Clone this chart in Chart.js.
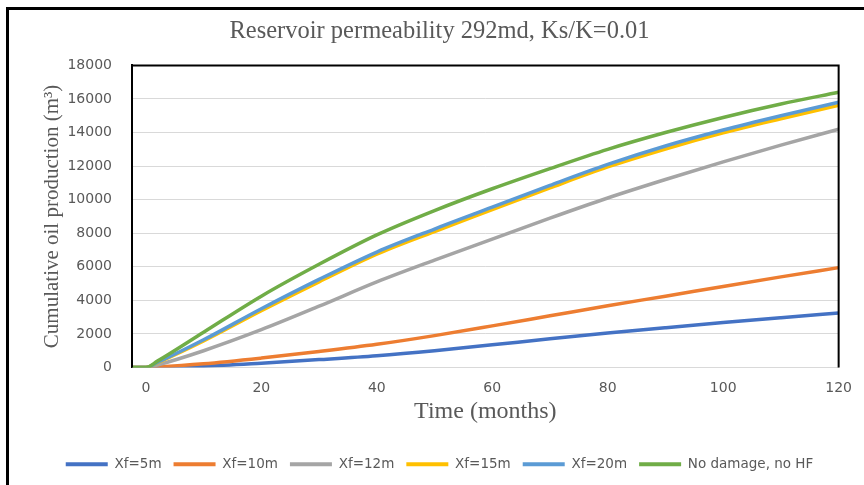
<!DOCTYPE html>
<html>
<head>
<meta charset="utf-8">
<script src="https://cdn.jsdelivr.net/npm/chart.js@4.4.1/dist/chart.umd.min.js"></script>
<style>
  body { margin: 0; background: #fff; }
  #wrap { position: relative; width: 864px; height: 485px; }
  #frame { position: absolute; left: 6px; top: 7px; right: 0; bottom: 0; border-left: 3px solid #000; border-top: 3px solid #000; pointer-events: none; }
  canvas { position: absolute; left: 0; top: 0; }
</style>
</head>
<body>
<div id="wrap">
  <canvas id="chart" width="864" height="485"></canvas>
  <div id="frame"></div>
</div>
<script>
// time in months, cumulative oil production in m3
const months = [-2.4, 0, 2, 10, 20, 30, 40, 50, 60, 70, 80, 90, 100, 110, 120];
const xf5 = [0, 0, 10, 80, 260, 470, 700, 1000, 1350, 1710, 2050, 2370, 2680, 2970, 3250];
const xf10 = [0, 0, 30, 220, 560, 950, 1380, 1900, 2480, 3080, 3680, 4250, 4830, 5400, 5950];
const xf12 = [0, 0, 150, 1000, 2250, 3650, 5100, 6400, 7650, 8900, 10100, 11200, 12250, 13250, 14200];
const xf15 = [0, 0, 280, 1580, 3380, 5100, 6750, 8100, 9400, 10700, 11950, 13020, 13980, 14820, 15620];
const xf20 = [0, 0, 300, 1650, 3500, 5250, 6880, 8250, 9550, 10850, 12100, 13200, 14150, 15000, 15800];
const noDamage = [0, 0, 380, 2100, 4250, 6150, 7900, 9350, 10650, 11850, 13000, 14000, 14900, 15700, 16400];

const seriesNames = ["Xf=5m", "Xf=10m", "Xf=12m", "Xf=15m", "Xf=20m", "No damage, no HF"];
const seriesColors = ["#4472C4", "#ED7D31", "#A5A5A5", "#FFC000", "#5B9BD5", "#70AD47"];
const xTicks = [0, 20, 40, 60, 80, 100, 120];

const seriesValues = [xf5, xf10, xf12, xf15, xf20, noDamage];
const datasets = seriesValues.map((vals, i) => ({
  label: seriesNames[i],
  data: vals.map((v, k) => ({ x: months[k], y: v })),
  borderColor: seriesColors[i],
  backgroundColor: seriesColors[i],
  borderWidth: 3.5,
  pointRadius: 0,
  cubicInterpolationMode: "monotone",
  order: seriesValues.length - 1 - i   // later series drawn on top
}));

const textGrey = "#595959";
const sans = "'DejaVu Sans', sans-serif";
const serif = "'Liberation Serif', 'Times New Roman', serif";

// black outline on the top, left and right of the plot area
const plotFrame = {
  id: "plotFrame",
  afterDatasetsDraw(chart) {
    const { ctx, chartArea: a } = chart;
    ctx.save();
    ctx.strokeStyle = "#000";
    ctx.lineWidth = 2;
    ctx.beginPath();
    ctx.moveTo(a.left, a.bottom);
    ctx.lineTo(a.left, a.top);
    ctx.lineTo(a.right, a.top);
    ctx.lineTo(a.right, a.bottom);
    ctx.stroke();
    ctx.restore();
  }
};

new Chart(document.getElementById("chart"), {
  type: "line",
  data: { datasets },
  plugins: [plotFrame],
  options: {
    responsive: false,
    animation: false,
    devicePixelRatio: 1,
    layout: { padding: { left: 40, right: 25, top: 0, bottom: 4 } },
    plugins: {
      title: {
        display: true,
        text: "Reservoir permeability 292md, Ks/K=0.01",
        color: textGrey,
        font: { family: serif, size: 24.5, weight: "normal" },
        padding: { top: 17, bottom: 19 }
      },
      legend: {
        position: "bottom",
        labels: {
          color: textGrey,
          font: { family: sans, size: 13.5 },
          boxWidth: 42,
          boxHeight: 4,
          padding: 12,
          sort: (a, b) => a.datasetIndex - b.datasetIndex,
          generateLabels: chart =>
            Chart.defaults.plugins.legend.labels.generateLabels(chart)
              .map(l => ({ ...l, lineWidth: 0, fillStyle: l.strokeStyle }))
        }
      },
      tooltip: { enabled: false }
    },
    scales: {
      x: {
        type: "linear",
        min: -2.4,
        max: 120,
        afterBuildTicks: s => { s.ticks = xTicks.map(v => ({ value: v })); },
        afterFit: s => { s.height = 78; },
        grid: { display: false, drawTicks: false },
        border: { color: "#d9d9d9", width: 1 },
        ticks: { color: textGrey, font: { family: sans, size: 14 }, padding: 12, maxRotation: 0 },
        title: {
          display: true,
          text: "Time (months)",
          color: textGrey,
          font: { family: serif, size: 24 },
          padding: { top: 0, bottom: 19 }
        }
      },
      y: {
        min: 0,
        max: 18000,
        afterFit: s => { s.width = 92; },
        grid: { color: "#d9d9d9", lineWidth: 1, drawTicks: false },
        border: { color: "#000", width: 2 },
        ticks: {
          stepSize: 2000,
          color: textGrey,
          font: { family: sans, size: 14 },
          padding: 20,
          callback: v => String(v)
        },
        title: {
          display: true,
          text: "Cumulative oil production (m³)",
          color: textGrey,
          font: { family: serif, size: 21 },
          padding: { top: 0, bottom: 0 }
        }
      }
    }
  }
});
</script>
</body>
</html>
